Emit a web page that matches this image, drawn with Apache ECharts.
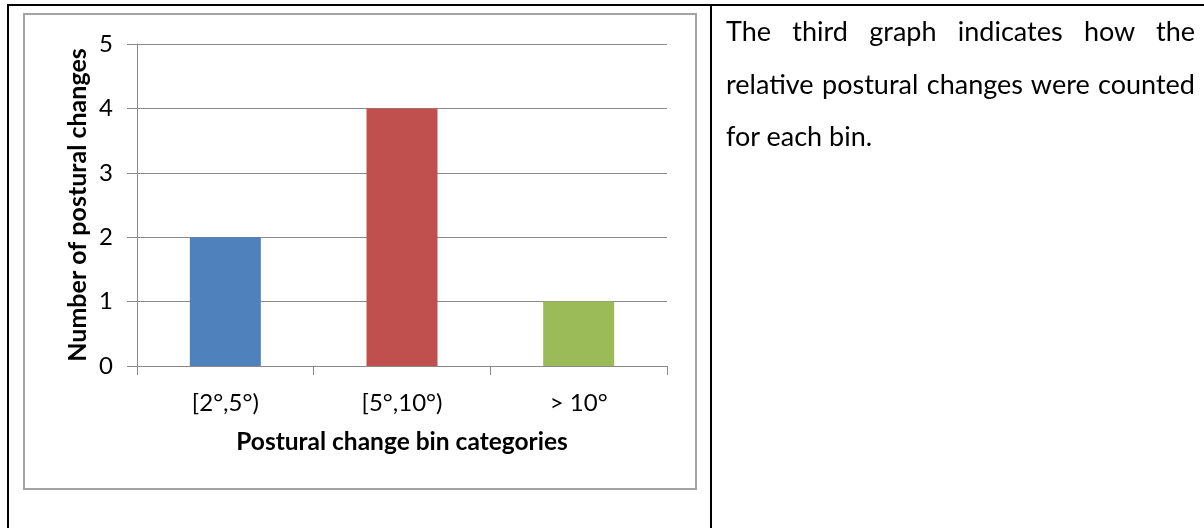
<!DOCTYPE html>
<html>
<head>
<meta charset="utf-8">
<script src="https://cdn.jsdelivr.net/npm/echarts@6/dist/echarts.min.js"></script>
<style>
  html, body { margin: 0; padding: 0; background: #fff; }
  body { width: 1204px; height: 528px; position: relative; overflow: hidden; font-family: Lato, "Noto Sans", sans-serif; }
  .rule { position: absolute; background: #000; }
  #frame { position: absolute; left: 23px; top: 13px; width: 670px; height: 473px; border: 2px solid #a3a3a3; }
  #chart { position: absolute; left: 0; top: 0; width: 1204px; height: 528px; }
  .para { position: absolute; left: 726px; width: 469px; font-size: 27px; line-height: 52.5px; color: #000; white-space: nowrap; }
  .just { text-align: justify; text-align-last: justify; white-space: normal; }
</style>
</head>
<body>
<div class="rule" style="left:7px;top:4px;width:1197px;height:2px"></div>
<div class="rule" style="left:7px;top:4px;width:2px;height:524px"></div>
<div class="rule" style="left:710px;top:4px;width:2px;height:524px"></div>
<div id="frame"></div>
<div id="chart"></div>
<div class="para just" style="top:5px">The third graph indicates how the</div>
<div class="para just" style="top:57.5px">relative postural changes were counted</div>
<div class="para" style="top:110px">for each bin.</div>
<script>
// Counts of postural changes per angle bin
const categories = ['[2°,5°)', '[5°,10°)', '> 10°'];
const counts = [2, 4, 1];
const barColors = ['#4F81BD', '#C0504D', '#9BBB59'];
const yTicks = { min: 0, max: 5, interval: 1 };

const chart = echarts.init(document.getElementById('chart'), null, { renderer: 'canvas' });
const font = 'Lato, "Noto Sans", sans-serif';
const gray = '#8a8a8a';

chart.setOption({
  animation: false,
  backgroundColor: 'transparent',
  grid: { left: 137, top: 44, width: 530, height: 322, containLabel: false },
  xAxis: {
    type: 'category',
    data: categories,
    name: 'Postural change bin categories',
    nameLocation: 'middle',
    nameGap: 64,
    nameTextStyle: { fontFamily: font, fontWeight: 'bold', fontSize: 24.5, color: '#000' },
    axisLine: { lineStyle: { color: gray, width: 1 } },
    axisTick: { show: true, length: 9, lineStyle: { color: gray } },
    axisLabel: { margin: 25, fontFamily: font, fontSize: 24, color: '#000' }
  },
  yAxis: {
    type: 'value',
    min: yTicks.min,
    max: yTicks.max,
    interval: yTicks.interval,
    name: 'Number of postural changes',
    nameLocation: 'middle',
    nameGap: 47,
    nameTextStyle: { fontFamily: font, fontWeight: 'bold', fontSize: 25, color: '#000' },
    axisLine: { show: true, lineStyle: { color: gray, width: 1 } },
    axisTick: { show: true, length: 10, lineStyle: { color: gray } },
    axisLabel: { margin: 24, fontFamily: font, fontSize: 24, color: '#000' },
    splitLine: { show: true, lineStyle: { color: gray, width: 1 } }
  },
  series: [{
    type: 'bar',
    barWidth: 71,
    data: counts.map((v, i) => ({ value: v, itemStyle: { color: barColors[i] } }))
  }]
});
</script>
</body>
</html>
